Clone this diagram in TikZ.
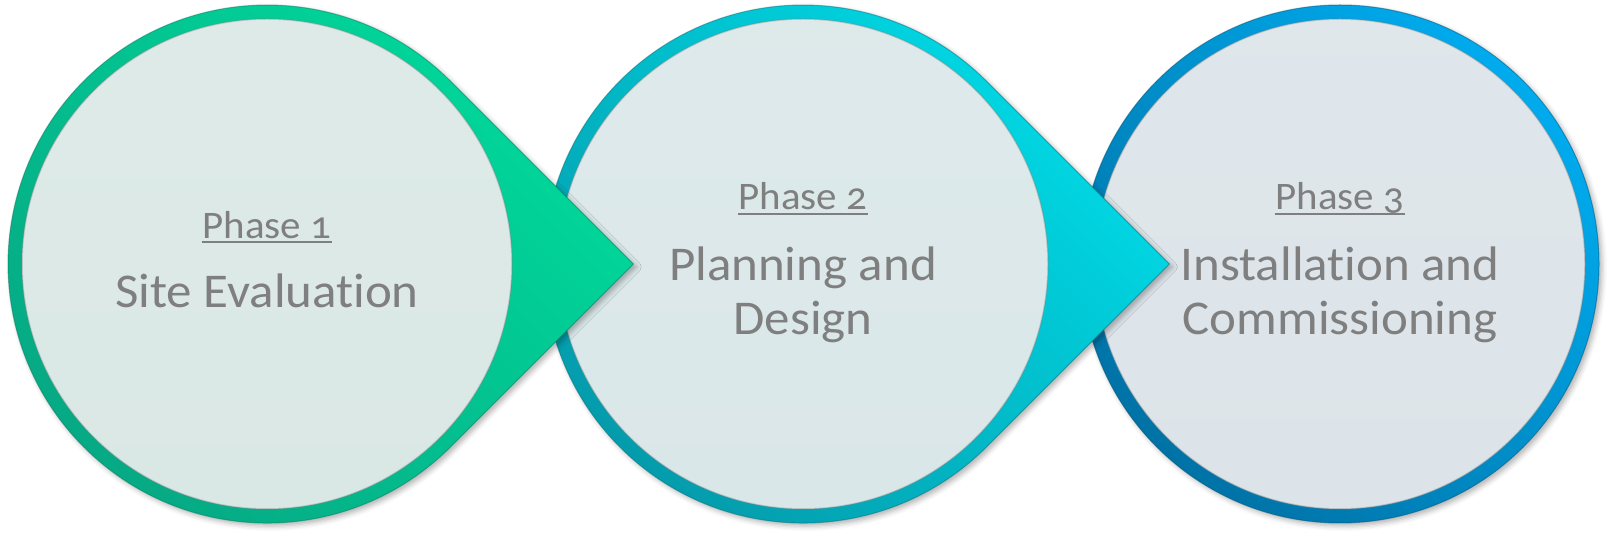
\documentclass[tikz,border=0pt]{standalone}
\usepackage{fontspec}
\setmainfont{Carlito}[FakeStretch=1.05,Numbers=OldStyle,Ligatures=NoCommon]
\usetikzlibrary{shadows.blur}
\definecolor{txt}{HTML}{7F7F7F}
\definecolor{gA}{HTML}{00DA9C}
\definecolor{gB}{HTML}{06A883}
\definecolor{cA}{HTML}{00DCE8}
\definecolor{cB}{HTML}{049AAA}
\definecolor{bA}{HTML}{00ABEE}
\definecolor{bB}{HTML}{0072A6}
\definecolor{iG}{HTML}{DAE8E5}
\definecolor{iC}{HTML}{DAE7E8}
\definecolor{iB}{HTML}{DCE4E9}
\tikzset{
  lbl/.style={text=txt, inner sep=0pt, anchor=base},
  phase/.style={lbl, font=\fontsize{39}{44}\selectfont},
  main/.style={lbl, font=\fontsize{48.5}{54}\selectfont},
  uline/.style={draw=txt, line width=2.2pt},
  ringshadow/.style={blur shadow={shadow xshift=3pt,shadow yshift=-3pt,shadow blur radius=5pt,shadow opacity=30}},
}
\newcommand\innerdisc[3]{%
  \shade[top color=#3!90!white, bottom color=#3] (#1,#2) circle[radius=245];
  \draw[#3!55!black, line width=1.5pt, opacity=0.35] (#1,#2) circle[radius=245];
}
\newcommand\teardrop[5]{%
  \shade[ringshadow, left color=#3, right color=#4, shading angle=-45]
    (#1+366.3,#2) -- ++(-183.1,183.1)
    arc[start angle=45, delta angle=270, radius=259] -- cycle;
  \draw[#4!75!black, line width=1pt, opacity=0.5]
    (#1+366.3,#2) -- ++(-183.1,183.1)
    arc[start angle=45, delta angle=270, radius=259] -- cycle;
  \innerdisc{#1}{#2}{#5}
}
\newcommand\plaindisc[5]{%
  \shade[ringshadow, left color=#3, right color=#4, shading angle=-45]
    (#1,#2) circle[radius=259];
  \draw[#4!75!black, line width=1pt, opacity=0.5] (#1,#2) circle[radius=259];
  \innerdisc{#1}{#2}{#5}
}
\begin{document}
\begin{tikzpicture}[x=1pt,y=1pt]
\useasboundingbox (0,0) rectangle (1607,533);
% shapes, right to left so each point lies over the next circle
\plaindisc{1340}{269}{bA}{bB}{iB}
\teardrop{803}{269}{cA}{cB}{iC}
\teardrop{267}{269}{gA}{gB}{iG}
% texts
\node[phase] (p1) at (267,294.7) {Phase 1};
\node[main] (t1) at (267,225) {Site Evaluation};
\node[phase] (p2) at (803,323) {Phase 2};
\node[main] (t2a) at (803,252.3) {Planning and};
\node[main] (t2b) at (803,198) {Design};
\node[phase] (p3) at (1340,323) {Phase 3};
\node[main] (t3a) at (1340,252.3) {Installation and};
\node[main] (t3b) at (1340,198) {Commissioning};
\draw[uline] ([yshift=-4pt]p1.base west) -- ([yshift=-4pt]p1.base east);
\draw[uline] ([yshift=-4pt]p2.base west) -- ([yshift=-4pt]p2.base east);
\draw[uline] ([yshift=-4pt]p3.base west) -- ([yshift=-4pt]p3.base east);
\end{tikzpicture}
\end{document}
